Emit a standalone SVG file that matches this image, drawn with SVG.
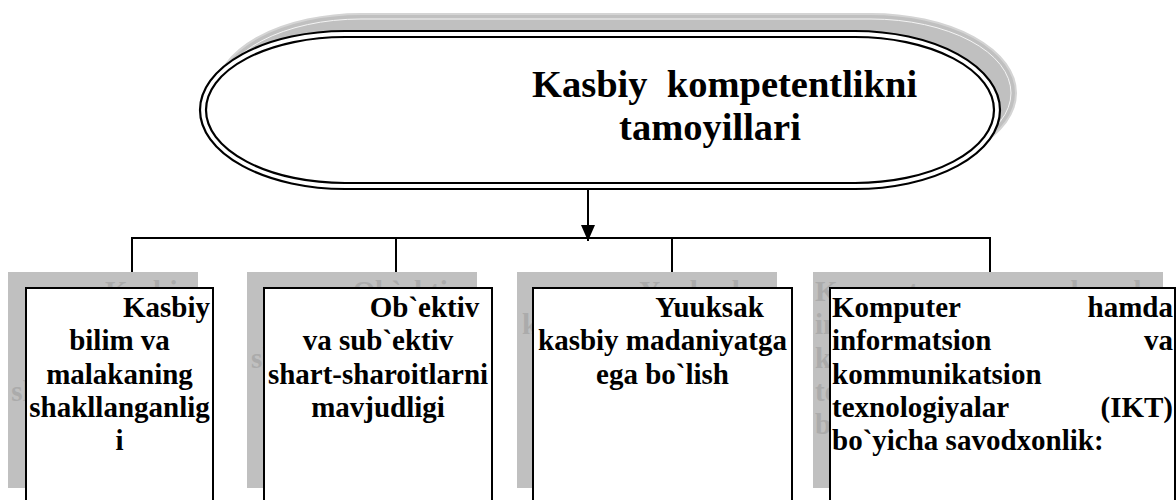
<svg xmlns="http://www.w3.org/2000/svg" xmlns:xlink="http://www.w3.org/1999/xlink" width="1176" height="500" viewBox="0 0 1176 500">
<style>
  .t { font-family: "Liberation Serif", "Times New Roman", serif; font-weight: bold; font-size: 29px; }
  .title { font-family: "Liberation Serif", "Times New Roman", serif; font-weight: bold; font-size: 38.5px; fill: #000; }
  .ghost { fill: #ababab; }
  .shadow { fill: #c0c0c0; stroke: none; }
  .box { fill: #fff; stroke: #000; stroke-width: 2; }
  .conn { fill: none; stroke: #000; stroke-width: 2; }
</style>
<defs>
  <marker id="arr" markerUnits="userSpaceOnUse" markerWidth="16" markerHeight="14" refX="16" refY="7" orient="auto">
    <path d="M0,0 L16,7 L0,14 z" fill="#000"/>
  </marker>
</defs>
<rect width="1176" height="500" fill="#fff"/>

<g id="title-node">
  <rect x="216" y="14" width="800" height="158" rx="145" ry="79" fill="#c0c0c0" stroke="#d4d4d4" stroke-width="2"/>
  <rect x="221" y="19" width="790" height="148" rx="140" ry="74" fill="none" stroke="#f4f4f4" stroke-width="1"/>
  <rect x="200" y="31" width="800" height="158" rx="145" ry="79" fill="#fff" stroke="#000" stroke-width="2.2"/>
  <rect x="206" y="37" width="788" height="146" rx="139" ry="73" fill="none" stroke="#000" stroke-width="2.2"/>
  <text class="title" x="532" y="97" xml:space="preserve">Kasbiy  kompetentlikni</text>
  <text class="title" x="710" y="139.5" text-anchor="middle">tamoyillari</text>
</g>

<g id="connectors">
  <line class="conn" x1="588" y1="190" x2="588" y2="241" marker-end="url(#arr)"/>
  <line class="conn" x1="131" y1="238" x2="991" y2="238"/>
  <line class="conn" x1="132" y1="238" x2="132" y2="289" marker-end="url(#arr)"/>
  <line class="conn" x1="396" y1="238" x2="396" y2="289" marker-end="url(#arr)"/>
  <line class="conn" x1="672" y1="238" x2="672" y2="289" marker-end="url(#arr)"/>
  <line class="conn" x1="990" y1="238" x2="990" y2="289" marker-end="url(#arr)"/>
</g>

<g id="node1">
  <rect class="shadow" x="8" y="272" width="190" height="216"/>
  <use xlink:href="#node1-text" href="#node1-text" transform="translate(-18,-16)" class="ghost"/>
  <rect class="box" x="26" y="288" width="187" height="230"/>
  <g id="node1-text" class="t">
    <text x="166.5" y="317" text-anchor="middle">Kasbiy</text>
    <text x="119.5" y="350.3" text-anchor="middle">bilim va</text>
    <text x="119.5" y="383.6" text-anchor="middle">malakaning</text>
    <text x="119.5" y="416.9" text-anchor="middle">shakllanganlig</text>
    <text x="119.5" y="450.2" text-anchor="middle">i</text>
  </g>
</g>

<g id="node2">
  <rect class="shadow" x="247" y="272" width="230" height="216"/>
  <use xlink:href="#node2-text" href="#node2-text" transform="translate(-17,-16)" class="ghost"/>
  <rect class="box" x="264" y="288" width="228" height="230"/>
  <g id="node2-text" class="t">
    <text x="424.5" y="317" text-anchor="middle">Ob`ektiv</text>
    <text x="378" y="350.3" text-anchor="middle">va sub`ektiv</text>
    <text x="378" y="383.6" text-anchor="middle">shart-sharoitlarni</text>
    <text x="378" y="416.9" text-anchor="middle">mavjudligi</text>
  </g>
</g>

<g id="node3">
  <rect class="shadow" x="517" y="272" width="260" height="216"/>
  <use xlink:href="#node3-text" href="#node3-text" transform="translate(-16,-16)" class="ghost"/>
  <rect class="box" x="533" y="288" width="259" height="230"/>
  <g id="node3-text" class="t">
    <text x="709.5" y="317" text-anchor="middle">Yuuksak</text>
    <text x="662.5" y="350.3" text-anchor="middle">kasbiy madaniyatga</text>
    <text x="662.5" y="383.6" text-anchor="middle">ega bo`lish</text>
  </g>
</g>

<g id="node4">
  <rect class="shadow" x="813" y="272" width="350" height="216"/>
  <use xlink:href="#node4-text" href="#node4-text" transform="translate(-17,-16)" class="ghost"/>
  <rect class="box" x="830" y="288" width="345" height="230"/>
  <g id="node4-text" class="t">
    <text x="832" y="317">Komputer</text>
    <text x="1173" y="317" text-anchor="end">hamda</text>
    <text x="832" y="350.3">informatsion</text>
    <text x="1173" y="350.3" text-anchor="end">va</text>
    <text x="832" y="383.6">kommunikatsion</text>
    <text x="832" y="416.9">texnologiyalar</text>
    <text x="1173" y="416.9" text-anchor="end">(IKT)</text>
    <text x="832" y="450.2">bo`yicha savodxonlik:</text>
  </g>
</g>
</svg>
